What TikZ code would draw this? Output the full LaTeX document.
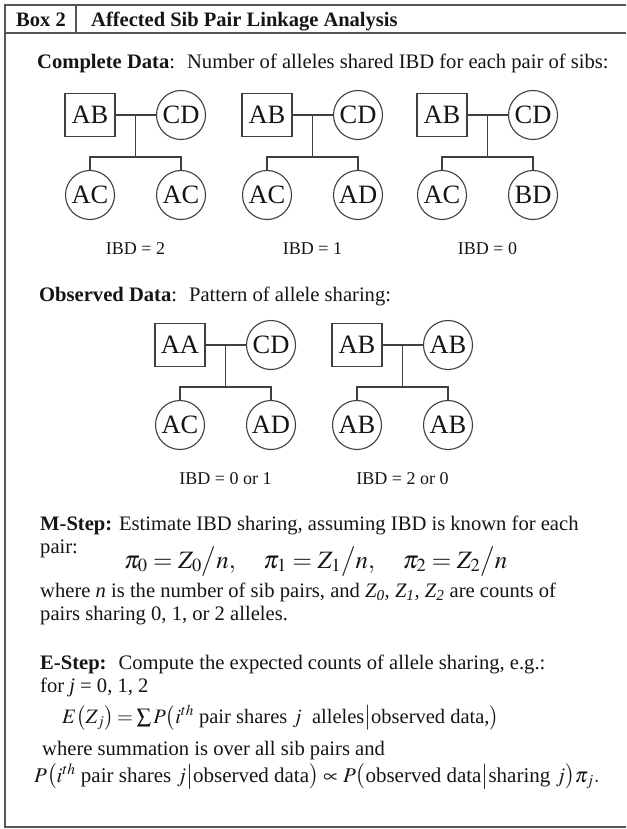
\documentclass[tikz,border=0pt]{standalone}
\usepackage{mathptmx}
\usepackage[no-math]{fontspec}
\setmainfont{Liberation Serif}
\definecolor{ink}{HTML}{151515}
\definecolor{lin}{HTML}{404040}
\definecolor{frm}{HTML}{555555}
\tikzset{
  sq/.style={draw=lin,line width=1.1pt,rectangle,minimum width=50pt,minimum height=43pt,inner sep=0pt,font=\fontsize{26.5}{28}\selectfont,text=ink},
  circ/.style={draw=lin,line width=1.1pt,circle,minimum size=49pt,inner sep=0pt,font=\fontsize{26.5}{28}\selectfont,text=ink},
  pl/.style={draw=lin,line width=1.1pt},
  ibd/.style={anchor=base,inner sep=0pt,font=\fontsize{18}{20}\selectfont,text=ink},
  txt/.style={anchor=base west,inner sep=0pt,text=ink,font=\fontsize{20.6}{24}\selectfont},
  frame/.style={draw=frm,line width=1.5pt}
}
\newcommand\ped[8]{%
  \node[sq] (#1f) at (#2,#3) {#4};
  \node[circ] (#1m) at (#2+91,#3) {#5};
  \node[circ] (#1a) at (#2,#3+80) {#6};
  \node[circ] (#1b) at (#2+91,#3+80) {#7};
  \coordinate (#1j) at (#2+45.5,#3);
  \coordinate (#1s) at (#2+45.5,#3+42);
  \node[ibd] (#1l) at (#2+45.5,#3+139) {#8};
  \draw[pl] (#1f) -- (#1m);
  \draw[pl] (#1j) -- (#1s);
  \draw[pl] (#1a.north) |- (#1s) -| (#1b.north);
}
\begin{document}
\begin{tikzpicture}[x=1pt,y=-1pt]
\useasboundingbox (0,0) rectangle (626,829);
\fill[white] (0,0) rectangle (626,829);
% frame
\draw[frame] (626,5) -- (5,5) -- (5,827) -- (626,827);
\draw[frame] (5,33) -- (626,33);
\draw[frame] (76,5) -- (76,33);
\node[anchor=base,inner sep=0pt,text=ink,font=\fontsize{20.5}{22}\selectfont\bfseries] (boxno) at (41,27) {Box 2};
\node[anchor=base west,inner sep=0pt,text=ink,font=\fontsize{20.5}{22}\selectfont\bfseries] (title) at (91,27) {Affected Sib Pair Linkage Analysis};
% complete data
\node[txt] (cd) at (37,69) {\textbf{Complete Data}:~ Number of alleles shared IBD for each pair of sibs:};
\ped{p1}{90}{115}{AB}{CD}{AC}{AC}{IBD = 2}
\ped{p2}{267}{115}{AB}{CD}{AC}{AD}{IBD = 1}
\ped{p3}{442}{115}{AB}{CD}{AC}{BD}{IBD = 0}
% observed data
\node[txt] (od) at (39,301) {\textbf{Observed Data}:~ Pattern of allele sharing:};
\ped{p4}{180}{345}{AA}{CD}{AC}{AD}{IBD = 0 or 1}
\ped{p5}{357}{345}{AB}{AB}{AB}{AB}{IBD = 2 or 0}
% M-step
\node[txt] (ms1) at (40,530) {\textbf{M-Step:} Estimate IBD sharing, assuming IBD is known for each};
\node[txt] (ms2) at (40,553) {pair:};
\node[anchor=base west,inner sep=0pt,text=ink,font=\fontsize{25}{28}\selectfont] (mf) at (124,568)
  {$\pi_0=Z_0\big/n,\quad \pi_1=Z_1\big/n,\quad \pi_2=Z_2\big/n$};
\node[txt] (ms3) at (40,597) {where \textit{n} is the number of sib pairs, and \textit{Z\textsubscript{0}, Z\textsubscript{1}, Z\textsubscript{2}} are counts of};
\node[txt] (ms4) at (40,620) {pairs sharing 0, 1, or 2 alleles.};
% E-step
\node[txt] (es1) at (40,669) {\textbf{E-Step:}~ Compute the expected counts of allele sharing, e.g.:};
\node[txt] (es2) at (40,692) {for \textit{j} = 0, 1, 2};
\node[anchor=base west,inner sep=0pt,text=ink,font=\fontsize{20.5}{24}\selectfont] (ef) at (62,723)
  {$\thickmuskip=3mu E\bigl(Z_j\bigr)=\sum P\bigl(i^{th}\mbox{ pair shares }j\mbox{~ alleles}\big|\mbox{observed data,}\bigr)$};
\node[txt] (es3) at (42,755) {where summation is over all sib pairs and};
\node[anchor=base west,inner sep=0pt,text=ink,font=\fontsize{21}{24}\selectfont] (pf) at (34,782)
  {$P\bigl(i^{th}\mbox{ pair shares }j\big|\mbox{observed data}\bigr)\propto P\bigl(\mbox{observed data}\big|\mbox{sharing }j\bigr)\pi_j.$};
\end{tikzpicture}
\end{document}
